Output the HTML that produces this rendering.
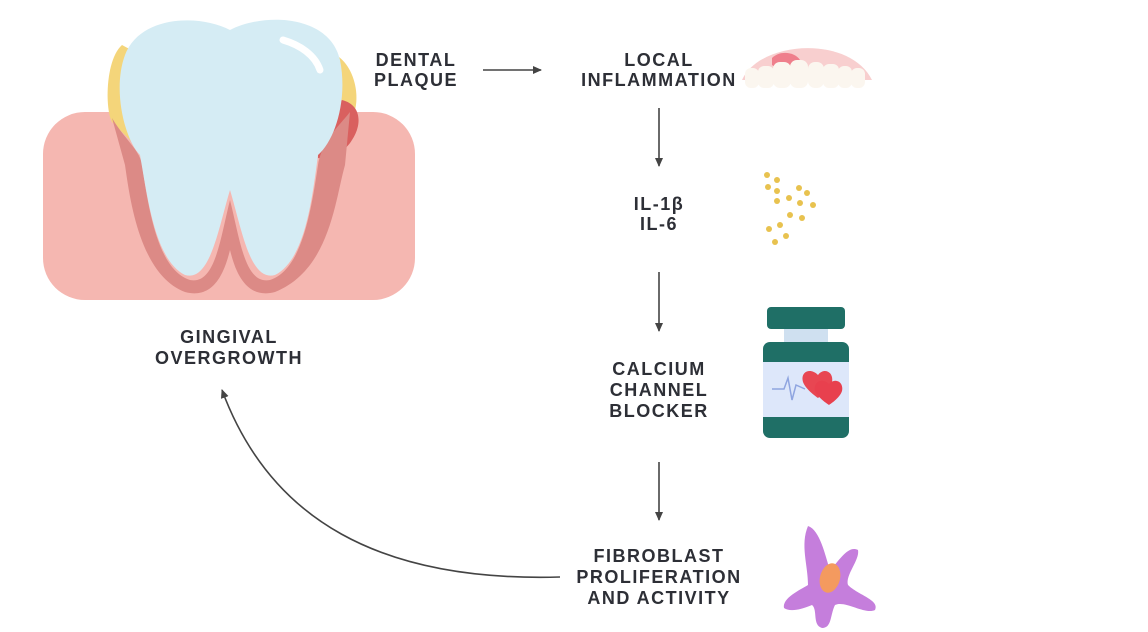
<!DOCTYPE html>
<html><head><meta charset="utf-8"><style>
body{margin:0;background:#fff;}
svg{display:block}
text{font-family:"Liberation Sans",Arial,sans-serif;font-weight:bold;font-size:18px;fill:#2d2f36;text-anchor:middle;letter-spacing:1.5px}
</style></head><body>
<svg width="1148" height="632" viewBox="0 0 1148 632" xmlns="http://www.w3.org/2000/svg">
<defs><marker id="ah" markerWidth="10" markerHeight="10" refX="8" refY="5" orient="auto" markerUnits="userSpaceOnUse"><path d="M0,1 L9,5 L0,9 z" fill="#444"/></marker></defs>
<!-- gum -->
<rect x="43" y="112" width="372" height="188" rx="42" fill="#f5b7b1"/>
<!-- plaque -->
<path d="M122,45 C105,60 105,110 112,122 L150,160 L150,60 Z" fill="#f4d57a"/>
<path d="M330,52 C352,60 360,90 355,110 L340,120 L330,60Z" fill="#f4d57a"/>
<path d="M342,100 C362,105 362,125 352,140 C345,152 330,160 318,158 L318,130 Z" fill="#d9605f"/>
<!-- tooth border in gum -->
<path d="M112,118 C125,140 140,150 142,165 C150,220 160,270 190,280 C215,285 220,240 230,200 C240,240 245,285 270,280 C300,270 310,220 318,165 C322,140 340,125 350,112 L345,165 C335,200 330,270 275,292 C245,300 235,270 230,250 C225,270 215,300 185,292 C140,275 130,200 125,165 Z" fill="#dc8a86"/>
<!-- tooth -->
<path d="M230,30 C200,14 140,15 125,55 C112,90 125,140 140,155 C148,200 155,260 185,275 C210,282 218,230 230,190 C242,230 250,282 275,275 C305,260 312,200 318,155 C335,140 348,100 340,60 C330,15 265,12 230,30 Z" fill="#d5ecf4"/>
<path d="M283,40 C300,45 315,55 320,70" stroke="#fff" stroke-width="7" fill="none" stroke-linecap="round"/>
<!-- texts -->
<text x="416" y="66">DENTAL</text><text x="416" y="86">PLAQUE</text>
<text x="659" y="66">LOCAL</text><text x="659" y="86">INFLAMMATION</text>
<text x="659" y="210">IL-1β</text><text x="659" y="230">IL-6</text>
<text x="659" y="375">CALCIUM</text><text x="659" y="396">CHANNEL</text><text x="659" y="417">BLOCKER</text>
<text x="659" y="562">FIBROBLAST</text><text x="659" y="583">PROLIFERATION</text><text x="659" y="604">AND ACTIVITY</text>
<text x="229" y="343">GINGIVAL</text><text x="229" y="364">OVERGROWTH</text>
<!-- arrows -->
<g stroke="#444" stroke-width="1.6" fill="none" marker-end="url(#ah)">
<line x1="483" y1="70" x2="541" y2="70"/>
<line x1="659" y1="108" x2="659" y2="166"/>
<line x1="659" y1="272" x2="659" y2="331"/>
<line x1="659" y1="462" x2="659" y2="520"/>
<path d="M560,577 C380,582 270,520 222,390"/>
</g>
<!-- teeth/gum icon -->
<path d="M742,80 C760,40 850,35 872,80 Z" fill="#f8cfcf"/>
<path d="M772,58 C780,50 795,52 800,60 C798,70 782,72 772,65Z" fill="#ef7f8c"/>
<g fill="#fbf6ef"><rect x="745" y="68" width="14" height="20" rx="6"/><rect x="758" y="66" width="16" height="22" rx="6"/><rect x="773" y="62" width="18" height="26" rx="7"/><rect x="790" y="60" width="18" height="28" rx="7"/><rect x="808" y="62" width="16" height="26" rx="7"/><rect x="823" y="64" width="16" height="24" rx="6"/><rect x="838" y="66" width="14" height="22" rx="6"/><rect x="851" y="68" width="14" height="20" rx="6"/></g>
<!-- particles -->
<g fill="#e8c24f"><circle cx="767" cy="175" r="3"/><circle cx="777" cy="180" r="3"/><circle cx="768" cy="187" r="3"/><circle cx="777" cy="191" r="3"/><circle cx="799" cy="188" r="3"/><circle cx="807" cy="193" r="3"/><circle cx="789" cy="198" r="3"/><circle cx="777" cy="201" r="3"/><circle cx="800" cy="203" r="3"/><circle cx="813" cy="205" r="3"/><circle cx="790" cy="215" r="3"/><circle cx="802" cy="218" r="3"/><circle cx="780" cy="225" r="3"/><circle cx="769" cy="229" r="3"/><circle cx="786" cy="236" r="3"/><circle cx="775" cy="242" r="3"/></g>
<!-- bottle -->
<rect x="767" y="307" width="78" height="22" rx="4" fill="#1f6f66"/>
<rect x="784" y="329" width="44" height="14" fill="#cfe0f0"/>
<rect x="763" y="342" width="86" height="96" rx="7" fill="#1f6f66"/>
<rect x="763" y="362" width="86" height="55" fill="#dde7fa"/>
<path d="M772,389 L784,389 L788,378 L792,400 L796,385 L805,389" stroke="#8fa5e0" stroke-width="1.5" fill="none"/>
<path d="M818,375 C810,367 800,372 803,382 C806,390 818,398 818,398 C818,398 830,390 832,382 C834,372 824,367 818,375Z" fill="#e84652"/>
<path d="M829,384 C822,377 813,382 815,391 C818,398 829,405 829,405 C829,405 840,398 842,391 C844,382 835,377 829,384Z" fill="#e8404e"/>
<!-- fibroblast -->
<path d="M808,526 C820,530 825,555 830,570 C840,560 848,545 858,550 C860,560 845,575 848,585 C858,595 880,600 875,610 C865,615 845,600 835,605 C830,615 832,628 822,628 C812,625 818,610 812,605 C800,610 790,612 784,608 C782,598 800,590 808,585 C808,565 800,545 808,526Z" fill="#c57edc"/>
<ellipse cx="830" cy="578" rx="10" ry="15" transform="rotate(15 830 578)" fill="#f49a5f"/>
</svg>
</body></html>
